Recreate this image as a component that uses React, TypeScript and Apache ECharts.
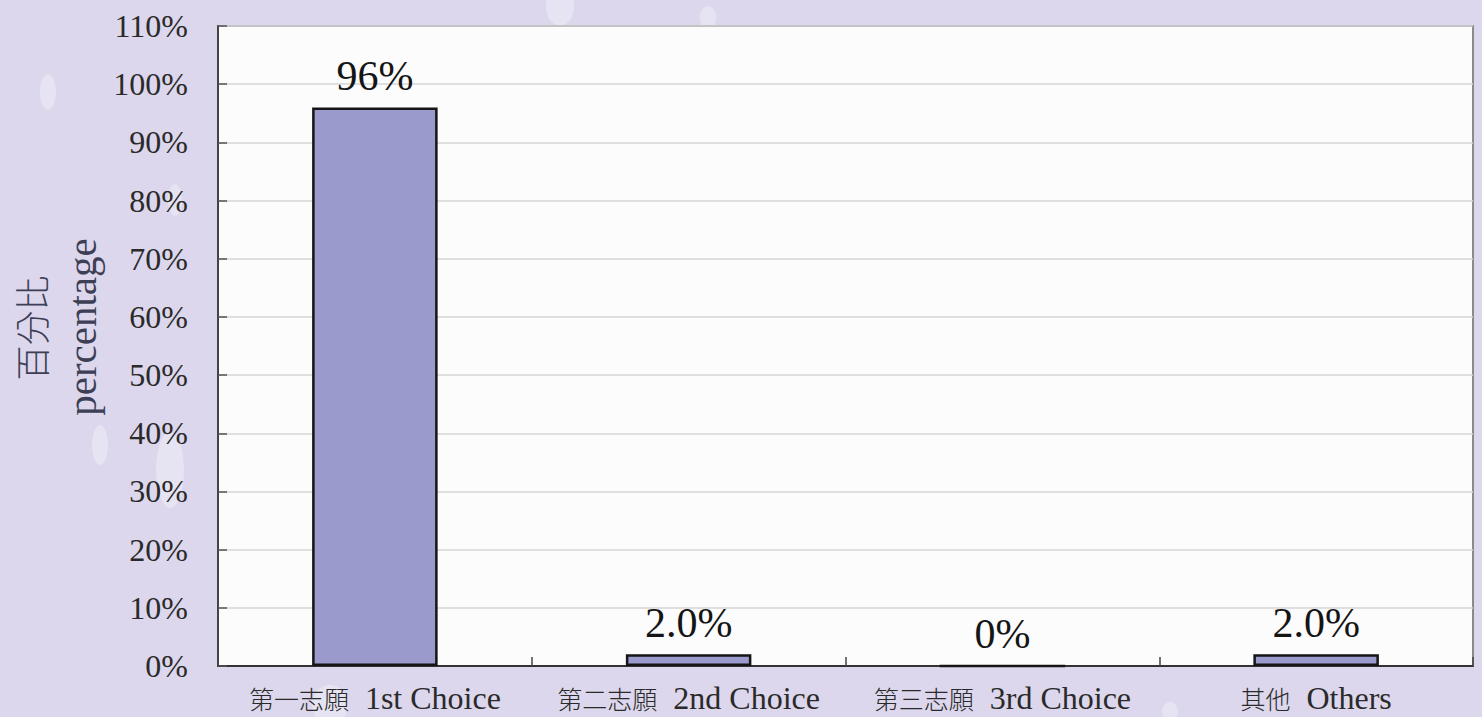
import React, { useEffect, useRef } from "react";
import * as echarts from "echarts";

const categoriesZh = ["第一志願", "第二志願", "第三志願", "其他"];
const categoriesEn = ["1st Choice", "2nd Choice", "3rd Choice", "Others"];
const values = [96, 2.0, 0, 2.0];
const valueLabels = ["96%", "2.0%", "0%", "2.0%"];
const yTicks = [0, 10, 20, 30, 40, 50, 60, 70, 80, 90, 100, 110];

const SERIF = "'Liberation Serif', 'Times New Roman', 'DejaVu Serif', serif";
const CJK = "'Noto Sans CJK TC', 'Noto Sans CJK SC', sans-serif";

export default function App() {
  const ref = useRef<HTMLDivElement>(null);
  useEffect(() => {
    if (!ref.current) return;
    const chart = echarts.init(ref.current, undefined, { renderer: "svg" });
    const bokeh = [
      [48, 92, 8, 18],
      [100, 445, 8, 20],
      [170, 470, 14, 38],
      [560, 6, 14, 20],
      [708, 18, 8, 12],
      [175, 200, 7, 16],
      [1170, 712, 8, 10],
      [330, 705, 18, 20],
    ];
    chart.setOption({
      animation: false,
      backgroundColor: "#dcd7ec",
      grid: {
        left: 218,
        right: 9,
        top: 26,
        bottom: 51,
        show: true,
        backgroundColor: "#fcfcfd",
        borderColor: "#8a8a8a",
        borderWidth: 2,
        containLabel: false,
      },
      graphic: [
        ...bokeh.map(([cx, cy, rx, ry]) => ({
          type: "ellipse",
          shape: { cx, cy, rx, ry },
          style: { fill: "rgba(255,255,255,0.3)" },
          silent: true,
          z: -10,
        })),
        {
          type: "text",
          x: 30,
          y: 328,
          rotation: Math.PI / 2,
          style: {
            text: "百分比",
            font: `300 35px ${CJK}`,
            fill: "#3c3f55",
            textAlign: "center",
            textVerticalAlign: "middle",
          },
        },
        {
          type: "text",
          x: 82,
          y: 327,
          rotation: Math.PI / 2,
          style: {
            text: "percentage",
            font: `41px ${SERIF}`,
            fill: "#3c3f55",
            textAlign: "center",
            textVerticalAlign: "middle",
          },
        },
      ],
      xAxis: {
        type: "category",
        data: categoriesZh,
        axisLine: { show: true, lineStyle: { color: "#333", width: 2 } },
        axisTick: { show: true, inside: true, length: 9, lineStyle: { color: "#444", width: 1.5 } },
        axisLabel: {
          margin: 16,
          interval: 0,
          formatter: (v: string, i: number) => `{c|${v}}{e|${categoriesEn[i]}}`,
          rich: {
            c: { fontFamily: CJK, fontWeight: 300, fontSize: 25, color: "#2a2a2a", padding: [0, 16, 0, 0] },
            e: { fontFamily: SERIF, fontSize: 32, color: "#2a2a2a" },
          },
        },
        splitLine: { show: false },
      },
      yAxis: {
        type: "value",
        min: yTicks[0],
        max: yTicks[yTicks.length - 1],
        interval: 10,
        axisLine: { show: true, lineStyle: { color: "#444", width: 2 } },
        axisTick: { show: true, inside: true, length: 9, lineStyle: { color: "#555", width: 1.5 } },
        axisLabel: {
          margin: 30,
          formatter: "{value}%",
          fontFamily: SERIF,
          fontSize: 32,
          color: "#2a2a2a",
        },
        splitLine: { show: true, lineStyle: { color: "#d6d6d6", width: 1.5 } },
      },
      series: [
        {
          type: "bar",
          data: values,
          barWidth: "40%",
          itemStyle: { color: "#9a9acc", borderColor: "#151515", borderWidth: 2.5 },
          label: {
            show: true,
            position: "top",
            distance: 10,
            formatter: (p: any) => valueLabels[p.dataIndex],
            fontFamily: SERIF,
            fontSize: 42,
            color: "#151515",
          },
        },
      ],
    });
    return () => chart.dispose();
  }, []);
  return (
    <div
      ref={ref}
      style={{ position: "fixed", left: 0, top: 0, width: 1482, height: 717 }}
    />
  );
}
